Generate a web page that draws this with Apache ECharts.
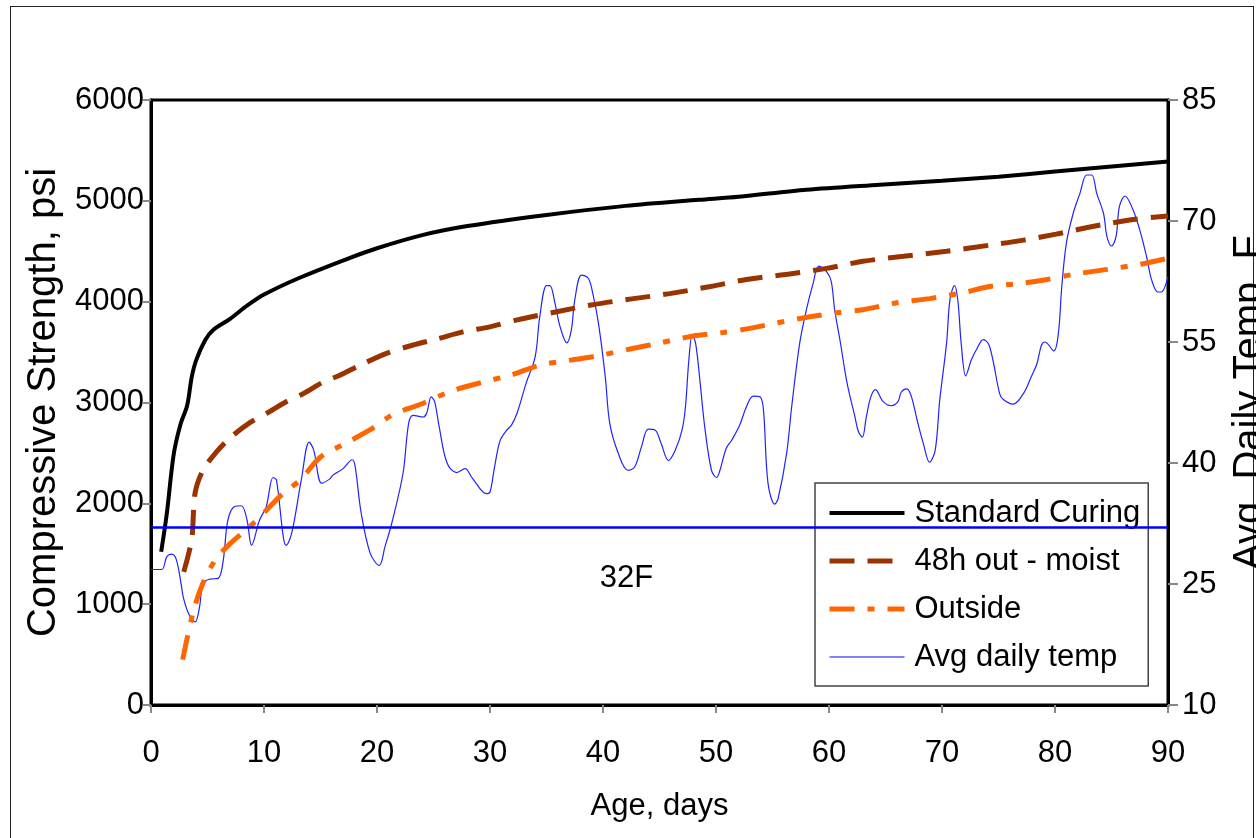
<!DOCTYPE html>
<html>
<head>
<meta charset="utf-8">
<script src="https://cdn.jsdelivr.net/npm/echarts@6/dist/echarts.min.js"></script>
<style>
html,body{margin:0;padding:0;background:#fff;}
#frame{position:absolute;left:10px;top:6px;width:1244px;height:840px;border:1.5px solid #222;box-sizing:border-box;}
#chart{position:absolute;left:0;top:0;width:1256px;height:838px;}
</style>
</head>
<body>
<div id="frame"></div>
<div id="chart"></div>
<script>
// ---- Data ----
const seriesNames = ['Standard Curing', '48h out - moist', 'Outside', 'Avg daily temp'];

const xTicks = { min: 0, max: 90, interval: 10 };
const strengthTicks = { min: 0, max: 6000, interval: 1000 };
const tempTicks = { min: 10, max: 85, interval: 15 };
const freezingTemp = 32;

// [age in days, compressive strength psi]
const standardCuring = [[0.9,1520],[1.4,1900],[2,2480],[2.6,2780],[3.2,2970],[3.6,3250],[4,3420],[4.8,3620],[5.5,3720],[7,3830],[8.5,3960],[10,4070],[13,4230],[17.5,4430],[20,4530],[24,4660],[28,4750],[35,4860],[42,4950],[48.5,5010],[52,5040],[58,5110],[64.5,5160],[70,5200],[75,5240],[80,5290],[83,5320],[90,5390]];

const moist48h = [[2.9,1320],[3.6,1640],[3.9,2100],[4.6,2330],[5.8,2510],[7,2650],[8.75,2800],[10.2,2890],[12,3010],[13.5,3090],[15.2,3200],[16.7,3270],[18.5,3370],[20.9,3490],[23.2,3570],[25.3,3630],[27.6,3700],[30,3750],[32.4,3820],[35.9,3900],[39.1,3970],[42.7,4030],[45.9,4080],[49.5,4150],[52.7,4220],[56.8,4280],[59.8,4330],[63,4400],[66.6,4450],[70.4,4500],[74.2,4560],[77.2,4610],[80.1,4670],[83.1,4740],[86.6,4810],[90,4850]];

const outside = [[2.8,450],[3.75,930],[4.6,1210],[5.7,1440],[7,1600],[8.75,1770],[10.2,1930],[11.7,2100],[13.2,2230],[15,2460],[17.3,2600],[19.4,2730],[21.4,2880],[23.8,2980],[26.75,3120],[30,3220],[31.8,3270],[34.4,3370],[37.1,3420],[39.4,3460],[42.4,3530],[45,3590],[48,3660],[50.35,3690],[52.7,3730],[55.4,3790],[58.3,3850],[60.7,3890],[63,3920],[66,3990],[68.9,4030],[71.9,4090],[74.2,4150],[76.9,4180],[79.3,4220],[81.6,4270],[84.6,4320],[87.5,4370],[90,4430]];

// [age in days, average daily temperature F]
const avgDailyTemp = [[0,26.8],[0.95,26.8],[1.4,28.4],[1.83,28.7],[2.25,28.0],[2.7,24.7],[2.85,23.4],[3.3,21.4],[3.9,20.3],[4.3,22.2],[4.6,25.1],[5.2,25.6],[5.95,25.7],[6.4,28.0],[6.8,32.9],[7.4,34.6],[8.0,34.7],[8.5,32.9],[8.9,29.8],[9.6,32.9],[10.2,34.6],[10.8,38.2],[11.1,37.9],[11.7,30.9],[11.95,29.8],[12.45,31.3],[13.3,37.9],[14.0,42.6],[14.4,41.6],[15.1,37.5],[15.8,38.0],[16.1,38.5],[17.0,39.3],[17.8,40.4],[18.05,39.7],[18.6,33.8],[19.4,28.8],[20.2,27.3],[20.7,29.6],[21.3,32.5],[22.3,38.7],[22.8,44.9],[23.2,45.9],[24.1,45.7],[24.4,46.2],[24.8,48.2],[25.1,47.6],[25.5,44.5],[26.2,40.0],[27.05,38.8],[27.8,39.3],[28.4,38.2],[29.7,36.2],[30.0,36.4],[30.4,39.5],[30.9,42.8],[31.5,44.1],[31.9,44.7],[32.4,46.2],[33.2,49.9],[34.0,53.2],[34.4,58.1],[35.0,62.0],[35.3,62.0],[35.75,59.8],[36.2,56.9],[36.8,54.9],[37.2,56.5],[37.5,60.2],[38.1,63.3],[38.7,62.9],[39.1,61.0],[39.6,57.3],[40.2,50.7],[40.6,44.9],[41.35,41.2],[42.2,39.1],[42.8,39.5],[43.4,42.0],[44.0,44.2],[44.6,44.1],[45.1,42.6],[45.8,40.3],[46.4,41.6],[47.0,44.1],[47.3,47.0],[47.6,52.8],[47.9,55.9],[48.2,54.8],[48.6,49.9],[49.0,44.5],[49.6,39.1],[50.05,38.2],[50.35,39.1],[50.9,41.8],[51.4,42.85],[52.1,44.7],[52.7,47.0],[53.3,48.3],[53.9,48.2],[54.2,46.6],[54.6,37.5],[55.2,34.9],[55.5,35.6],[56.25,41.2],[56.7,47.0],[57.4,54.8],[58.0,59.0],[58.6,62.3],[59.1,64.4],[59.8,63.7],[60.2,62.5],[60.5,59.0],[61.0,55.0],[61.6,49.9],[62.3,45.7],[62.6,43.9],[62.95,43.2],[63.3,45.7],[63.7,48.2],[64.1,49.1],[64.8,47.6],[65.5,47.1],[66.1,47.6],[66.4,48.8],[66.9,49.2],[67.3,48.2],[67.8,45.3],[68.35,42.4],[68.9,40.1],[69.4,41.6],[69.8,47.8],[70.4,54.8],[70.7,60.2],[71.1,62.0],[71.4,60.2],[71.7,54.8],[72.1,50.8],[72.6,52.8],[73.1,54.2],[73.65,55.3],[74.1,54.8],[74.5,52.8],[75.1,48.6],[75.4,47.9],[76.3,47.3],[77.2,48.6],[77.9,50.7],[78.4,52.3],[78.8,54.6],[79.1,55.0],[79.9,53.9],[80.3,56.1],[80.6,61.85],[81.0,67.2],[81.6,70.9],[82.2,73.4],[82.8,75.7],[83.25,75.7],[83.7,73.4],[84.3,70.9],[84.6,68.05],[85.0,66.9],[85.4,68.05],[85.7,71.8],[86.2,73.1],[86.9,71.4],[87.5,68.9],[88.1,65.6],[88.55,62.7],[89.1,61.2],[89.4,61.2],[90.0,63.1]];

// ---- Chart ----
const FONT = 'Liberation Sans, Arial, Helvetica, sans-serif';
const chart = echarts.init(document.getElementById('chart'), null, { renderer: 'canvas' });

const seriesColors = ['#000000', '#993300', '#ff6600', '#2222ff'];
const seriesWidths = [4, 5, 5, 1.2];
const seriesDash = ['solid', [25, 13], [25, 13, 7, 13], 'solid'];

const option = {
  animation: false,
  backgroundColor: 'transparent',
  textStyle: { fontFamily: FONT, color: '#000' },
  grid: {
    left: 151, right: 88, top: 100, bottom: 133,
    show: true, borderColor: '#000', borderWidth: 3,
    containLabel: false, outerBoundsMode: 'none'
  },
  legend: {
    data: seriesNames.map((n, i) => ({
      name: n,
      itemStyle: { opacity: 0 },
      lineStyle: { color: seriesColors[i], width: seriesWidths[i] < 2 ? 1.5 : seriesWidths[i], type: seriesDash[i], opacity: i === 3 ? 0.75 : 1 }
    })),
    orient: 'vertical',
    left: 815, top: 483,
    backgroundColor: '#fff',
    borderColor: '#444', borderWidth: 1.5,
    padding: [12, 8, 11, 12],
    itemWidth: 75, itemHeight: 16, itemGap: 12,
    itemStyle: { opacity: 0 },
    textStyle: { fontFamily: FONT, fontSize: 31, lineHeight: 36, color: '#000', padding: [0, 0, 0, 5] }
  },
  xAxis: {
    type: 'value',
    min: xTicks.min, max: xTicks.max, interval: xTicks.interval,
    axisLine: { show: true, lineStyle: { color: '#000', width: 3 } },
    axisTick: { show: true, inside: false, length: 8, lineStyle: { color: '#888', width: 2 } },
    axisLabel: { fontFamily: FONT, fontSize: 31, color: '#000', margin: 33 },
    splitLine: { show: false },
    name: 'Age, days', nameLocation: 'middle', nameGap: 86,
    nameTextStyle: { fontFamily: FONT, fontSize: 31, color: '#000' }
  },
  yAxis: [
    {
      type: 'value', position: 'left',
      min: strengthTicks.min, max: strengthTicks.max, interval: strengthTicks.interval,
      axisLine: { show: true, lineStyle: { color: '#000', width: 3 } },
      axisTick: { show: true, length: 8, lineStyle: { color: '#888', width: 2 } },
      axisLabel: { fontFamily: FONT, fontSize: 31, color: '#000', margin: 7, formatter: v => String(v) },
      splitLine: { show: false },
      name: 'Compressive Strength, psi', nameLocation: 'middle', nameRotate: 90, nameGap: 82,
      nameTextStyle: { fontFamily: FONT, fontSize: 40, color: '#000' }
    },
    {
      type: 'value', position: 'right',
      min: tempTicks.min, max: tempTicks.max, interval: tempTicks.interval,
      axisLine: { show: true, lineStyle: { color: '#000', width: 3 } },
      axisTick: { show: true, length: 10, lineStyle: { color: '#888', width: 2 } },
      axisLabel: { fontFamily: FONT, fontSize: 31, color: '#000', margin: 14, formatter: v => String(v) },
      splitLine: { show: false },
      name: 'Avg. Daily Temp. F', nameLocation: 'middle', nameRotate: 90, nameGap: 62,
      nameTextStyle: { fontFamily: FONT, fontSize: 40, color: '#000' }
    }
  ],
  series: [
    {
      name: seriesNames[0], type: 'line', yAxisIndex: 0,
      data: standardCuring, smooth: 0.3, symbol: 'none',
      lineStyle: { color: seriesColors[0], width: seriesWidths[0], type: seriesDash[0] }, itemStyle: { color: seriesColors[0] }, z: 4
    },
    {
      name: seriesNames[1], type: 'line', yAxisIndex: 0,
      data: moist48h, smooth: 0.3, symbol: 'none',
      lineStyle: { color: seriesColors[1], width: seriesWidths[1], type: seriesDash[1] }, itemStyle: { color: seriesColors[1] }, z: 4
    },
    {
      name: seriesNames[2], type: 'line', yAxisIndex: 0,
      data: outside, smooth: 0.3, symbol: 'none',
      lineStyle: { color: seriesColors[2], width: seriesWidths[2], type: seriesDash[2] }, itemStyle: { color: seriesColors[2] }, z: 4
    },
    {
      name: seriesNames[3], type: 'line', yAxisIndex: 1,
      data: avgDailyTemp, smooth: 0.35, symbol: 'none',
      lineStyle: { color: seriesColors[3], width: seriesWidths[3] }, itemStyle: { color: seriesColors[3] }, z: 3,
      markLine: {
        silent: true, symbol: 'none', animation: false,
        lineStyle: { color: '#0000ff', width: 2.5, type: 'solid' },
        label: {
          show: true, formatter: '32F', position: 'insideMiddleBottom',
          fontFamily: FONT, fontSize: 31, color: '#000', distance: 35,
          padding: [0, 66, 0, 0]
        },
        data: [{ yAxis: freezingTemp }]
      }
    }
  ]
};
chart.setOption(option);
</script>
</body>
</html>
